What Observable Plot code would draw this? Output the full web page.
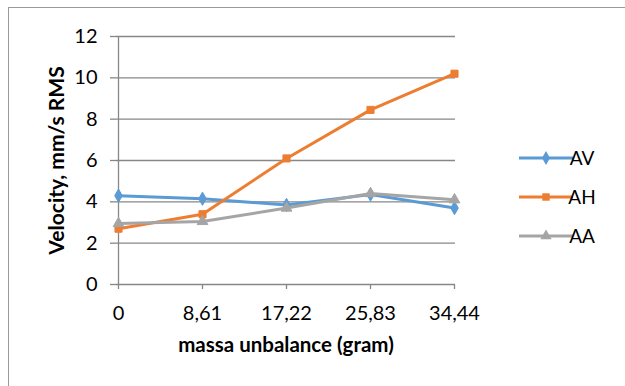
<!DOCTYPE html>
<html>
<head>
<meta charset="utf-8">
<script src="https://cdn.jsdelivr.net/npm/d3@7"></script>
<script src="https://cdn.jsdelivr.net/npm/@observablehq/plot@0.6"></script>
<style>
  html, body { margin: 0; padding: 0; background: #fff; }
  #wrap { position: relative; width: 625px; height: 386px; overflow: hidden; }
  #border { position: absolute; left: 8px; top: 7px; width: 700px; height: 500px; border: 1.5px solid #9a9a9a; box-sizing: border-box; }
  #wrap svg { position: absolute; left: 0; top: 0; }
</style>
</head>
<body>
<div id="wrap"><div id="border"></div></div>
<script>
const categories = ["0", "8,61", "17,22", "25,83", "34,44"];
const AV = [4.3, 4.15, 3.85, 4.35, 3.7];
const AH = [2.7, 3.4, 6.1, 8.45, 10.2];
const AA = [2.95, 3.05, 3.7, 4.4, 4.1];
const seriesNames = ["AV", "AH", "AA"];
const seriesValues = [AV, AH, AA];
const colors = ["#5B9BD5", "#ED7D31", "#A5A5A5"];
const symbols = ["diamond", "square", "triangle"];
const yTicks = [0, 2, 4, 6, 8, 10, 12];
const yTitle = "Velocity, mm/s RMS";
const xTitle = "massa unbalance (gram)";

const data = seriesNames.flatMap((s, i) =>
  categories.map((c, j) => ({ series: s, x: c, y: seriesValues[i][j] })));

const FONT = "Lato, 'Open Sans', sans-serif";
const gridColor = "#878787";

const plot = Plot.plot({
  width: 625, height: 386,
  marginLeft: 116, marginRight: 170, marginTop: 36, marginBottom: 102,
  style: { fontFamily: FONT, fontSize: "20px", color: "#000", background: "transparent", overflow: "visible" },
  x: { type: "point", domain: categories, padding: 0 },
  y: { domain: [0, 12] },
  color: { domain: seriesNames, range: colors },
  symbol: { domain: seriesNames, range: symbols },
  marks: [
    Plot.ruleY(yTicks, { stroke: gridColor, strokeWidth: 1.3 }),
    Plot.ruleX([categories[0]], { y1: 0, y2: 12, stroke: gridColor, strokeWidth: 1.3 }),
    Plot.axisY({ ticks: yTicks, tickSize: 6, tickPadding: 13, stroke: gridColor, strokeWidth: 1.3, label: null, fontSize: 20 }),
    Plot.axisX({ tickSize: 5, tickPadding: 16, stroke: gridColor, strokeWidth: 1.3, label: null, fontSize: 20 }),
    ...seriesNames.flatMap(s => [
      Plot.line(data.filter(d => d.series === s), { x: "x", y: "y", stroke: "series", strokeWidth: 3 }),
      Plot.dot(data.filter(d => d.series === s), { x: "x", y: "y", symbol: "series", fill: "series", stroke: "series", strokeWidth: 1, r: 4 })
    ]),
    Plot.text([yTitle], { frameAnchor: "left", rotate: -90, textAnchor: "middle", lineAnchor: "middle", dx: -59, fontWeight: "bold", fontSize: 21 }),
    Plot.text([xTitle], { frameAnchor: "bottom", dy: 61, textAnchor: "middle", lineAnchor: "middle", fontWeight: "bold", fontSize: 20.5 })
  ]
});

// legend
const svg = d3.select(plot);
const leg = svg.append("g").attr("font-family", FONT).attr("font-size", 19);
const legY = [158, 197, 236];
seriesNames.forEach((s, i) => {
  const g = leg.append("g").attr("transform", `translate(0,${legY[i]})`);
  g.append("line").attr("x1", 519).attr("x2", 573).attr("y1", 0).attr("y2", 0)
    .attr("stroke", colors[i]).attr("stroke-width", 3);
  const symType = [d3.symbolDiamond, d3.symbolSquare, d3.symbolTriangle][i];
  g.append("path").attr("d", d3.symbol(symType, 55)())
    .attr("transform", "translate(546,0)").attr("fill", colors[i]);
  g.append("text").attr("x", 582).attr("y", 0).attr("dy", "0.35em").attr("fill", "#000").text(s);
});

document.getElementById("wrap").appendChild(plot);
</script>
</body>
</html>
